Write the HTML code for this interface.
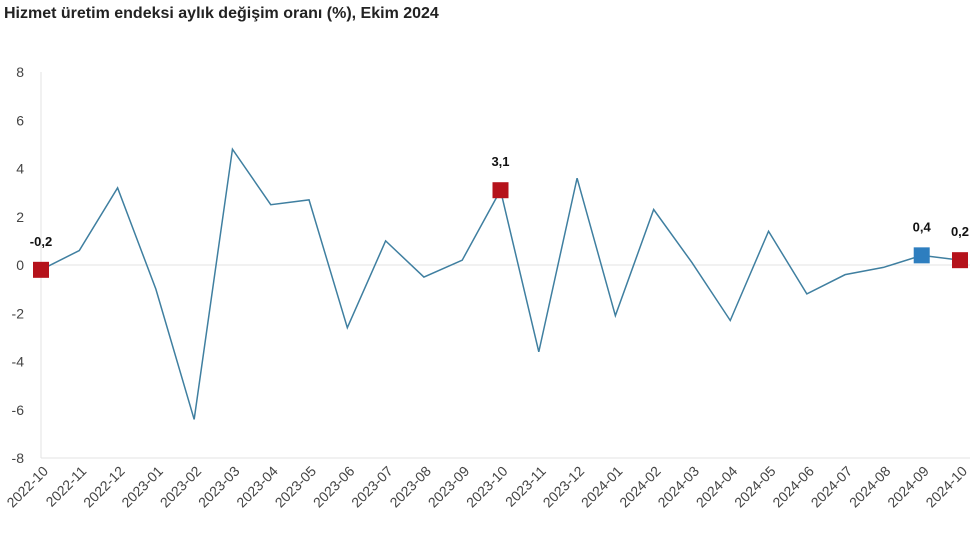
<!DOCTYPE html>
<html><head><meta charset="utf-8">
<style>
body{margin:0;background:#fff;width:979px;height:541px;overflow:hidden;font-family:"Liberation Sans",sans-serif}
</style></head>
<body>
<svg id="c" width="979" height="541">
<text x="4" y="18" font-size="16" font-weight="bold" fill="#222">Hizmet üretim endeksi aylık değişim oranı (%), Ekim 2024</text>
</svg>
<script>
const categories=["2022-10","2022-11","2022-12","2023-01","2023-02","2023-03","2023-04","2023-05","2023-06","2023-07","2023-08","2023-09","2023-10","2023-11","2023-12","2024-01","2024-02","2024-03","2024-04","2024-05","2024-06","2024-07","2024-08","2024-09","2024-10"];
const values=[-0.2,0.6,3.2,-1.0,-6.4,4.8,2.5,2.7,-2.6,1.0,-0.5,0.2,3.1,-3.6,3.6,-2.1,2.3,0.1,-2.3,1.4,-1.2,-0.4,-0.1,0.4,0.2];
const yTicks=[-8,-6,-4,-2,0,2,4,6,8];
const highlights=[{i:0,label:"-0,2",color:"#b5121b"},{i:12,label:"3,1",color:"#b5121b"},{i:23,label:"0,4",color:"#2e7ebf"},{i:24,label:"0,2",color:"#b5121b"}];
const svg=document.getElementById('c');const NS="http://www.w3.org/2000/svg";
const x0=41,x1=960,yTop=72,yBot=458;
const X=i=>x0+(x1-x0)*i/(categories.length-1);
const Y=v=>yBot-(v+8)/16*(yBot-yTop);
function mk(t,a){const e=document.createElementNS(NS,t);for(const k in a)e.setAttribute(k,a[k]);svg.appendChild(e);return e;}
let e=mk('line',{x1:x0,x2:x0,y1:yTop,y2:yBot,stroke:'#e3e3e3'});


e=mk('line',{x1:x0,x2:x1+10,y1:Y(0),y2:Y(0),stroke:'#e3e3e3'});


e=mk('line',{x1:x0,x2:x1+10,y1:yBot,y2:yBot,stroke:'#e3e3e3'});


yTicks.forEach(v=>{const t=mk('text',{x:24,y:Y(v)+5,'text-anchor':'end','font-size':14,fill:'#444'});t.textContent=v;

});
categories.forEach((c,i)=>{const t=mk('text',{x:X(i)+8,y:yBot+14,'text-anchor':'end','font-size':14,fill:'#444',transform:`rotate(-45 ${X(i)+8} ${yBot+14})`});t.textContent=c;

});
const p=mk('polyline',{points:values.map((v,i)=>X(i)+','+Y(v)).join(' '),fill:'none',stroke:'#3f7fa0','stroke-width':1.5});


highlights.forEach(h=>{const cx=X(h.i),cy=Y(values[h.i]);
const r=mk('rect',{x:cx-8,y:cy-8,width:16,height:16,fill:h.color});


const t=mk('text',{x:cx,y:cy-24,'text-anchor':'middle','font-size':13,'font-weight':'bold',fill:'#111'});t.textContent=h.label;

});
</script>
</body></html>
